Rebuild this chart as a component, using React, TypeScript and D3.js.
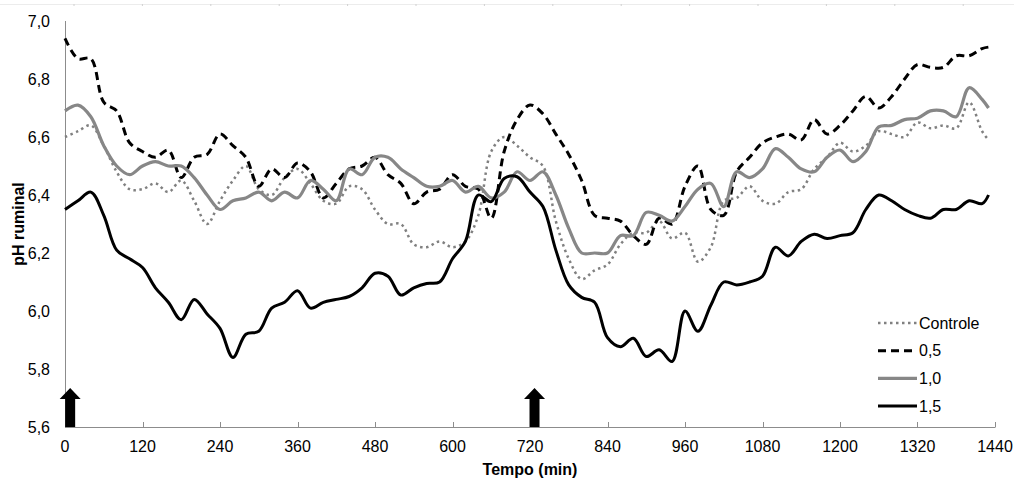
import React, { useRef, useEffect } from 'react';
import * as d3 from 'd3';

// tempo (min) and pH ruminal per tratamento
const tempo = [
  0, 20, 40, 60, 80, 100, 120, 140, 160, 180,
  200, 220, 240, 260, 280, 300, 320, 340, 360, 380,
  400, 420, 440, 460, 480, 500, 520, 540, 560, 580,
  600, 620, 640, 660, 680, 700, 720, 740, 760, 780,
  800, 820, 840, 860, 880, 900, 920, 940, 960, 980,
  1000, 1020, 1040, 1060, 1080, 1100, 1120, 1140, 1160, 1180,
  1200, 1220, 1240, 1260, 1280, 1300, 1320, 1340, 1360, 1380,
  1400, 1420, 1430,
];
const controle = [
  6.60, 6.62, 6.64, 6.57, 6.48, 6.42, 6.42, 6.44, 6.41, 6.45,
  6.38, 6.30, 6.38, 6.45, 6.50, 6.42, 6.40, 6.46, 6.49, 6.44,
  6.38, 6.37, 6.43, 6.42, 6.35, 6.30, 6.30, 6.23, 6.22, 6.24,
  6.22, 6.24, 6.33, 6.55, 6.60, 6.57, 6.53, 6.50, 6.31, 6.18,
  6.11, 6.14, 6.16, 6.23, 6.27, 6.27, 6.31, 6.25, 6.27, 6.17,
  6.22, 6.38, 6.39, 6.43, 6.38, 6.37, 6.41, 6.42, 6.49, 6.53,
  6.58, 6.55, 6.57, 6.62, 6.61, 6.60, 6.65, 6.63, 6.64, 6.63,
  6.72, 6.62, 6.59,
];
const dose05 = [
  6.94, 6.87, 6.87, 6.72, 6.69, 6.58, 6.55, 6.53, 6.555, 6.46,
  6.53, 6.54, 6.61, 6.57, 6.53, 6.43, 6.49, 6.46, 6.51, 6.48,
  6.39, 6.44, 6.49, 6.50, 6.53, 6.47, 6.44, 6.37, 6.41, 6.42,
  6.47, 6.43, 6.42, 6.32, 6.55, 6.66, 6.71, 6.68, 6.61, 6.54,
  6.45, 6.33, 6.32, 6.31, 6.26, 6.23, 6.32, 6.30, 6.43, 6.50,
  6.35, 6.33, 6.48, 6.53, 6.58, 6.60, 6.61, 6.59, 6.66, 6.61,
  6.64, 6.69, 6.74, 6.70, 6.74, 6.80, 6.85, 6.84, 6.84, 6.88,
  6.88, 6.905, 6.91,
];
const dose10 = [
  6.69, 6.71, 6.67, 6.57, 6.50, 6.47, 6.50, 6.515, 6.50, 6.50,
  6.46, 6.40, 6.35, 6.38, 6.39, 6.41, 6.38, 6.41, 6.39, 6.45,
  6.42, 6.38, 6.49, 6.47, 6.53, 6.53, 6.49, 6.46, 6.43, 6.43,
  6.45, 6.41, 6.43, 6.39, 6.41, 6.48, 6.45, 6.48, 6.40, 6.285,
  6.20, 6.20, 6.20, 6.26, 6.26, 6.34, 6.33, 6.31, 6.36, 6.42,
  6.44, 6.36, 6.48, 6.46, 6.49, 6.56, 6.53, 6.49, 6.48, 6.53,
  6.555, 6.515, 6.55, 6.635, 6.64, 6.66, 6.665, 6.69, 6.69, 6.67,
  6.77, 6.73, 6.70,
];
const dose15 = [
  6.35, 6.38, 6.41, 6.33, 6.21, 6.18, 6.15, 6.08, 6.03, 5.97,
  6.04, 5.99, 5.94, 5.84, 5.92, 5.93, 6.01, 6.03, 6.07, 6.01,
  6.03, 6.04, 6.05, 6.08, 6.13, 6.12, 6.055, 6.08, 6.095, 6.10,
  6.18, 6.24, 6.40, 6.377, 6.457, 6.463, 6.41, 6.36, 6.21, 6.09,
  6.047, 6.03, 5.908, 5.877, 5.906, 5.843, 5.866, 5.826, 6.00, 5.93,
  6.02, 6.10, 6.09, 6.10, 6.12, 6.22, 6.19, 6.24, 6.265, 6.25,
  6.26, 6.27, 6.35, 6.40, 6.38, 6.35, 6.33, 6.32, 6.35, 6.35,
  6.38, 6.37, 6.40,
];

const seriesNames = ['Controle', '0,5', '1,0', '1,5'];
const xTicks = [0, 120, 240, 360, 480, 600, 720, 840, 960, 1080, 1200, 1320, 1440];
const yTicks = [5.6, 5.8, 6.0, 6.2, 6.4, 6.6, 6.8, 7.0];
const arrowTimes = [8, 727]; // fornecimento

export default function App() {
  const ref = useRef<SVGSVGElement>(null);
  const width = 1014;
  const height = 482;

  useEffect(() => {
    const svg = d3.select(ref.current);
    svg.selectAll('*').remove();
    const font = 'Liberation Sans, Arial, sans-serif';
    const axisColor = '#8c8c8c';

    const x = d3.scaleLinear().domain([0, 1440]).range([65, 995]);
    const y = d3.scaleLinear().domain([5.6, 7.0]).range([427, 21]);
    const fmt = d3.formatLocale({ decimal: ',', thousands: '.', grouping: [3], currency: ['', ''] }).format('.1f');

    // faint rule left over at the very top
    svg.append('line')
      .attr('x1', 0).attr('x2', width).attr('y1', 4.5).attr('y2', 4.5)
      .attr('stroke', '#ececec').attr('stroke-width', 1);
    svg.append('g').selectAll('line')
      .data(d3.range(14))
      .join('line')
      .attr('x1', d => 74 + d * 68.4).attr('x2', d => 74 + d * 68.4)
      .attr('y1', 4).attr('y2', 6)
      .attr('stroke', '#d0d0d0');

    //------------- axes -------------//
    svg.append('line')
      .attr('x1', 65.5).attr('x2', 65.5).attr('y1', y(7.0)).attr('y2', y(5.6))
      .attr('stroke', axisColor).attr('stroke-width', 1);
    svg.append('line')
      .attr('x1', 65).attr('x2', 995.5).attr('y1', y(5.6) + 0.5).attr('y2', y(5.6) + 0.5)
      .attr('stroke', axisColor).attr('stroke-width', 1);

    svg.append('g').selectAll('line')
      .data(xTicks)
      .join('line')
      .attr('x1', d => Math.round(x(d)) + 0.5).attr('x2', d => Math.round(x(d)) + 0.5)
      .attr('y1', y(5.6) - 5).attr('y2', y(5.6))
      .attr('stroke', axisColor);

    svg.append('g').selectAll('text')
      .data(xTicks)
      .join('text')
      .attr('x', d => x(d)).attr('y', 452)
      .attr('text-anchor', 'middle')
      .style('font-family', font).style('font-size', '16px')
      .text(d => d);

    svg.append('g').selectAll('text')
      .data(yTicks)
      .join('text')
      .attr('x', 50).attr('y', d => y(d)).attr('dy', '0.35em')
      .attr('text-anchor', 'end')
      .style('font-family', font).style('font-size', '16px')
      .text(d => fmt(d));

    svg.append('text')
      .attr('x', 530).attr('y', 475)
      .attr('text-anchor', 'middle')
      .style('font-family', font).style('font-size', '16px').style('font-weight', 'bold')
      .text('Tempo (min)');

    svg.append('text')
      .attr('transform', `translate(24,${(y(7.0) + y(5.6)) / 2}) rotate(-90)`)
      .attr('text-anchor', 'middle')
      .style('font-family', font).style('font-size', '16px').style('font-weight', 'bold')
      .text('pH ruminal');

    //------------- lines -------------//
    const styles = [
      { values: controle, color: '#808080', w: 2.5, dash: '2.5,3.5' },
      { values: dose05, color: '#000000', w: 3, dash: '8,5' },
      { values: dose10, color: '#878787', w: 3.2, dash: null },
      { values: dose15, color: '#000000', w: 3, dash: null },
    ];

    const line = d3.line<number>()
      .x((d, i) => x(tempo[i]))
      .y(d => y(d))
      .curve(d3.curveCatmullRom.alpha(0.5));

    svg.append('g').selectAll('path')
      .data(styles)
      .join('path')
      .attr('d', d => line(d.values))
      .attr('fill', 'none')
      .attr('stroke', d => d.color)
      .attr('stroke-width', d => d.w)
      .attr('stroke-dasharray', d => d.dash)
      .attr('stroke-linejoin', 'round');

    //------------- arrows -------------//
    const base = y(5.6);
    svg.append('g').selectAll('path')
      .data(arrowTimes)
      .join('path')
      .attr('d', t => {
        const cx = x(t);
        return `M${cx - 5},${base} L${cx - 5},${base - 28} L${cx - 10.5},${base - 28} L${cx},${base - 39} L${cx + 10.5},${base - 28} L${cx + 5},${base - 28} L${cx + 5},${base} Z`;
      })
      .attr('fill', '#000');

    //------------- legend -------------//
    const legend = svg.append('g').selectAll('g')
      .data(styles)
      .join('g')
      .attr('transform', (d, i) => `translate(878,${323 + i * 27.7})`);
    legend.append('line')
      .attr('x1', 0).attr('x2', 39).attr('y1', 0).attr('y2', 0)
      .attr('stroke', d => d.color)
      .attr('stroke-width', d => d.w)
      .attr('stroke-dasharray', d => d.dash);
    legend.append('text')
      .attr('x', 41).attr('y', 0).attr('dy', '0.35em')
      .style('font-family', font).style('font-size', '16px')
      .text((d, i) => seriesNames[i]);
  }, []);

  return (
    <svg ref={ref} width={width} height={height}
      style={{ position: 'absolute', left: 0, top: 0, background: '#fff' }} />
  );
}
